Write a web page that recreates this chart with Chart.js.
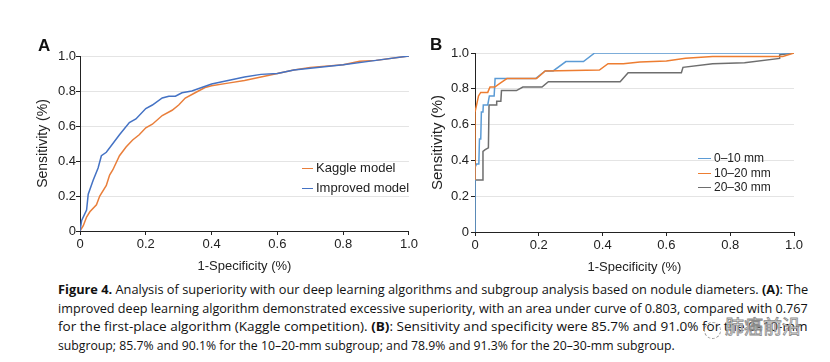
<!DOCTYPE html>
<html><head><meta charset="utf-8">
<script src="https://cdn.jsdelivr.net/npm/chart.js@4"></script>
<style>
html,body{margin:0;padding:0;background:#fff;}
#wrap{position:relative;width:830px;height:362px;overflow:hidden;font-family:"Liberation Sans",Arial,sans-serif;color:#111;}
canvas{position:absolute;top:0;}
.plabel{position:absolute;font-weight:bold;font-size:17px;line-height:17px;}
.legend{position:absolute;}
.li{position:absolute;white-space:nowrap;line-height:16px;color:#222;}
.li span.sw{position:absolute;top:8px;height:0;border-top:1.5px solid;}
.cap{position:absolute;left:58px;white-space:nowrap;font-family:"Liberation Sans Narrow","Open Sans","Liberation Sans",sans-serif;font-size:13px;line-height:16px;color:#111;transform-origin:0 50%;}
.cap b{font-weight:bold;}
#wm{position:absolute;left:704px;top:312px;width:112px;height:30px;}
#wm .t{position:absolute;left:21px;top:2px;font-family:"Noto Sans CJK SC",sans-serif;font-size:19px;line-height:24px;color:rgba(255,255,255,0.9);-webkit-text-stroke:0.8px #8a8a8a;}
#wm .c{position:absolute;left:0px;top:10px;width:15px;height:15px;border:1.2px dashed #999;border-radius:50%;}
</style></head><body>
<div id="wrap">
<canvas id="cA" width="420" height="280" style="left:0;width:420px;height:280px"></canvas>
<canvas id="cB" width="410" height="280" style="left:420px;width:410px;height:280px"></canvas>
<div class="plabel" style="left:38px;top:37px">A</div>
<div class="plabel" style="left:430px;top:36px">B</div>
<div id="legA" class="legend"></div>
<div id="legB" class="legend"></div>
<div class="cap" id="l1" style="top:281px"><b>Figure 4.</b> Analysis of superiority with our deep learning algorithms and subgroup analysis based on nodule diameters. <b>(A)</b>: The</div>
<div class="cap" id="l2" style="top:299.5px">improved deep learning algorithm demonstrated excessive superiority, with an area under curve of 0.803, compared with 0.767</div>
<div class="cap" id="l3" style="top:318px">for the first-place algorithm (Kaggle competition). <b>(B)</b>: Sensitivity and specificity were 85.7% and 91.0% for the 0–10-mm</div>
<div class="cap" id="l4" style="top:336.5px">subgroup; 85.7% and 90.1% for the 10–20-mm subgroup; and 78.9% and 91.3% for the 20–30-mm subgroup.</div>
<div id="wm"><div class="c"></div><div class="t">肺癌前沿</div></div>
</div>
<script>
// ---- Panel A data ----
const kaggleFpr = [0,0.01,0.02,0.03,0.05,0.06,0.08,0.09,0.10,0.12,0.14,0.16,0.18,0.20,0.22,0.25,0.28,0.30,0.32,0.35,0.38,0.40,0.45,0.50,0.55,0.60,0.65,0.70,0.80,0.85,0.90,1.0];
const kaggleTpr = [0,0.03,0.08,0.11,0.15,0.20,0.26,0.32,0.35,0.43,0.48,0.52,0.55,0.59,0.61,0.66,0.69,0.72,0.76,0.79,0.82,0.83,0.845,0.86,0.88,0.90,0.92,0.935,0.95,0.97,0.975,1.0];
const improvedFpr = [0,0.005,0.02,0.025,0.04,0.055,0.065,0.08,0.10,0.12,0.15,0.17,0.20,0.22,0.25,0.27,0.29,0.31,0.34,0.37,0.40,0.45,0.50,0.55,0.60,0.65,0.70,0.80,0.90,1.0];
const improvedTpr = [0,0.06,0.12,0.21,0.29,0.36,0.43,0.45,0.50,0.55,0.62,0.64,0.70,0.72,0.76,0.77,0.77,0.79,0.80,0.82,0.84,0.86,0.88,0.895,0.90,0.92,0.93,0.95,0.975,1.0];
const labelsA = ["Kaggle model","Improved model"];

// ---- Panel B data ----
const mm0_10Fpr = [0,0,0.005,0.012,0.014,0.018,0.020,0.025,0.026,0.040,0.045,0.060,0.063,0.190,0.220,0.245,0.285,0.340,0.375,1.0];
const mm0_10Tpr = [0,0.36,0.38,0.38,0.52,0.52,0.67,0.67,0.71,0.71,0.76,0.76,0.857,0.857,0.90,0.90,0.952,0.952,1.0,1.0];
const mm10_20Fpr = [0,0,0.005,0.011,0.018,0.040,0.047,0.062,0.078,0.094,0.100,0.193,0.220,0.390,0.417,0.465,0.517,0.600,0.660,0.745,0.965,1.0];
const mm10_20Tpr = [0.29,0.67,0.71,0.76,0.78,0.78,0.81,0.81,0.83,0.85,0.857,0.857,0.90,0.905,0.94,0.94,0.95,0.955,0.97,0.98,0.98,1.0];
const mm20_30Fpr = [0,0,0.024,0.025,0.032,0.042,0.044,0.066,0.068,0.081,0.083,0.13,0.15,0.21,0.23,0.455,0.48,0.647,0.652,0.745,0.845,0.955,0.955,1.0];
const mm20_30Tpr = [0,0.29,0.29,0.45,0.46,0.47,0.71,0.71,0.73,0.73,0.79,0.79,0.81,0.81,0.84,0.84,0.89,0.89,0.92,0.94,0.945,0.97,0.99,1.0];
const labelsB = ["0–10 mm","10–20 mm","20–30 mm"];

const tickValues = [0,0.2,0.4,0.6,0.8,1.0];
const tickText = ["0","0.2","0.4","0.6","0.8","1.0"];

const colA = ["#E97E3A","#4472C4"];
const colB = ["#5B9BD5","#ED7D31","#6E6E6E"];

function pts(xs, ys){ return xs.map((x,i)=>({x:x,y:ys[i]})); }

function makeScale(axis, o){
  return {
    type:'linear', min:0, max:1,
    afterBuildTicks: s => { s.ticks = tickValues.map(v=>({value:v})); },
    afterFit: s => { if(axis==='x') s.height = o.h; else s.width = o.w; },
    ticks:{ callback:(v)=>{ const i = tickValues.findIndex(t=>Math.abs(t-v)<1e-9); return i>=0?tickText[i]:''; },
      color:'#222', font:{family:'"Liberation Sans", Arial, sans-serif', size:13}, padding:o.tp, maxRotation:0, autoSkip:false },
    grid:{ display:true, drawOnChartArea: axis==='y', color:'#e4e4e4', lineWidth:1, tickColor:'#222', tickLength:4, tickWidth:1 },
    border:{ display:true, color:'#222', width:1 },
    title:{ display:true, text: axis==='x' ? '1-Specificity (%)' : 'Sensitivity (%)', color:'#222',
      font:{family:'"Liberation Sans", Arial, sans-serif', size:o.ts}, padding: o.titlePad }
  };
}

function makeChart(id, datasets, pad, xo, yo){
  return new Chart(document.getElementById(id), {
    type:'line',
    data:{ datasets: datasets },
    options:{
      responsive:false, animation:false, devicePixelRatio:1,
      layout:{ padding: pad },
      plugins:{ legend:{display:false}, tooltip:{enabled:false} },
      elements:{ point:{radius:0}, line:{tension:0, borderWidth:1.5} },
      scales:{ x: makeScale('x', xo), y: makeScale('y', yo) }
    }
  });
}

makeChart('cA', [
  { label:labelsA[1], data:pts(improvedFpr, improvedTpr), borderColor:colA[1], order:1 },
  { label:labelsA[0], data:pts(kaggleFpr, kaggleTpr), borderColor:colA[0], order:2 }
], {left:0, right:10, top:56, bottom:0},
  {h:49, tp:2, ts:13, titlePad:{top:0,bottom:6}},
  {w:80, tp:0, ts:14, titlePad:{top:35,bottom:0}});

makeChart('cB', [
  { label:labelsB[1], data:pts(mm10_20Fpr, mm10_20Tpr), borderColor:colB[1], order:1 },
  { label:labelsB[0], data:pts(mm0_10Fpr, mm0_10Tpr), borderColor:colB[0], order:2 },
  { label:labelsB[2], data:pts(mm20_30Fpr, mm20_30Tpr), borderColor:colB[2], order:3 }
], {left:0, right:36, top:53, bottom:0},
  {h:48, tp:2, ts:13, titlePad:{top:0,bottom:5}},
  {w:55, tp:2, ts:15, titlePad:{top:9,bottom:0}});

function legend(id, labels, cols, left, top, step, size, swW, gap){
  const el = document.getElementById(id);
  labels.forEach((t,i)=>{
    const d = document.createElement('div');
    d.className='li';
    d.style.left = left+'px'; d.style.top = (top + i*step - 8)+'px';
    d.style.fontSize = size+'px'; d.style.paddingLeft = (swW+gap)+'px';
    d.innerHTML = '<span class="sw" style="left:0;width:'+swW+'px;border-color:'+cols[i]+'"></span>'+t;
    el.appendChild(d);
  });
}
legend('legA', labelsA, colA, 302, 168, 20, 13, 11, 3);
legend('legB', labelsB, colB, 698, 158, 14.5, 12, 13, 3);

// fit caption lines to width
const targets = {l1:750, l2:750, l3:750, l4:617};
Object.keys(targets).forEach(k=>{
  const e = document.getElementById(k);
  const w = e.scrollWidth;
  e.style.transform = 'scaleX('+(targets[k]/w)+')';
});
</script>
</body></html>
